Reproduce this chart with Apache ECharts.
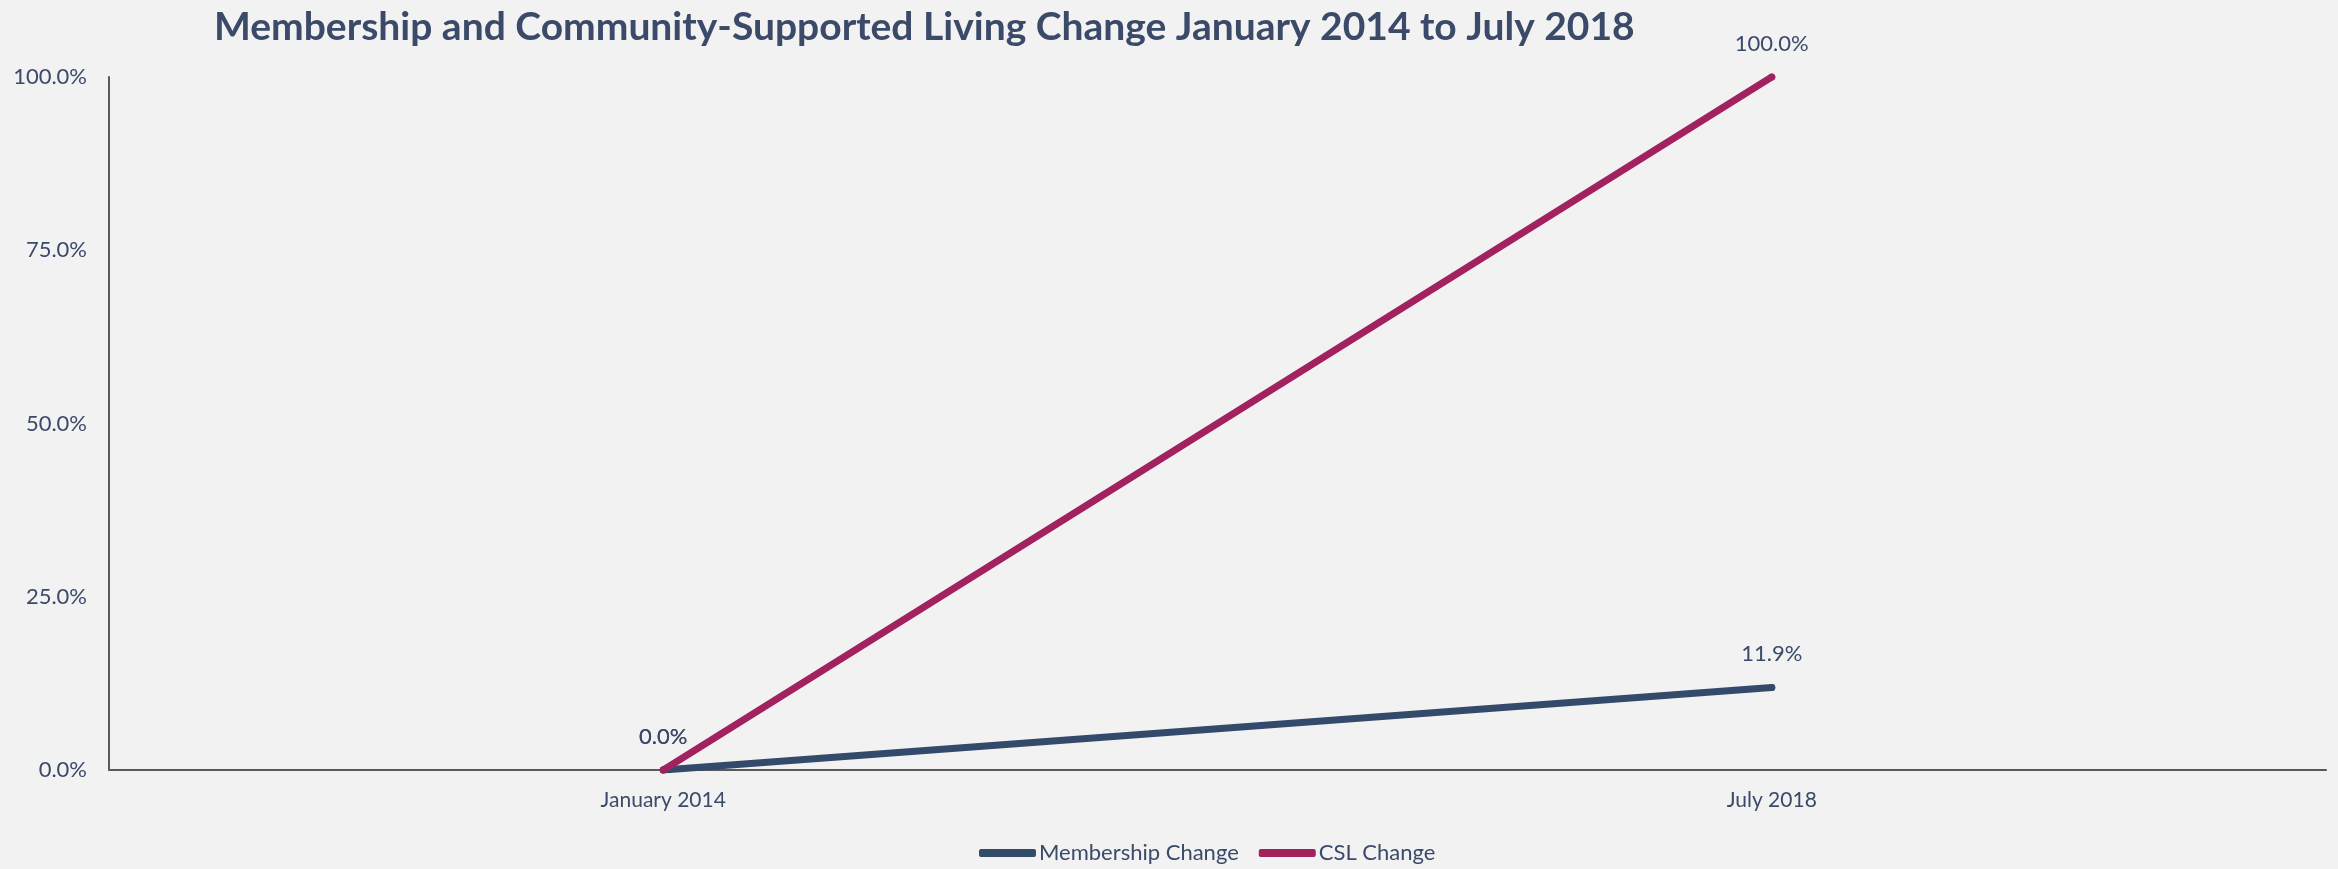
<!DOCTYPE html>
<html>
<head>
<meta charset="utf-8">
<script src="https://cdn.jsdelivr.net/npm/echarts@6/dist/echarts.min.js"></script>
<style>
  html, body { margin: 0; padding: 0; background: #f2f2f2; }
  #chart { width: 2338px; height: 869px; }
</style>
</head>
<body>
<div id="chart"></div>
<script>
// values
const categories = ['January 2014', 'July 2018'];
const membershipChange = [0.0, 11.9];
const cslChange = [0.0, 100.0];
const seriesNames = ['Membership Change', 'CSL Change'];

const textColor = '#3b4a69';
const font = 'Lato';

const chart = echarts.init(document.getElementById('chart'));

function lineSeries(name, data, color) {
  return {
    name: name,
    type: 'line',
    data: data,
    symbol: 'circle',
    symbolSize: 7,
    showSymbol: true,
    lineStyle: { color: color, width: 7, cap: 'round' },
    itemStyle: { color: color },
    labelLayout: { hideOverlap: false },
    label: {
      show: true,
      position: 'top',
      distance: 19,
      color: textColor,
      fontFamily: font,
      fontSize: 22,
      formatter: (p) => p.value.toFixed(1) + '%'
    }
  };
}

chart.setOption({
  backgroundColor: '#f2f2f2',
  animation: false,
  title: {
    text: 'Membership and Community-Supported Living Change January 2014 to July 2018',
    left: 209,
    top: 3,
    textStyle: { color: textColor, fontFamily: font, fontWeight: 'bold', fontSize: 39 }
  },
  grid: { left: 109, right: 12, top: 77, bottom: 99, containLabel: false },
  legend: {
    bottom: 0,
    left: 974,
    itemWidth: 57,
    itemHeight: 8,
    itemGap: 20,
    icon: 'roundRect',
    textStyle: { color: textColor, fontFamily: font, fontSize: 22, padding: [0, 0, 0, -2] },
    data: seriesNames
  },
  xAxis: {
    type: 'category',
    data: categories,
    boundaryGap: true,
    axisLine: { lineStyle: { color: '#595959', width: 2 } },
    axisTick: { show: false },
    axisLabel: { color: textColor, fontFamily: font, fontSize: 21, margin: 20 }
  },
  yAxis: {
    type: 'value',
    min: 0,
    max: 100,
    interval: 25,
    axisLine: { show: true, lineStyle: { color: '#595959', width: 2 } },
    axisTick: { show: false },
    splitLine: { show: false },
    axisLabel: {
      color: textColor, fontFamily: font, fontSize: 22, margin: 22,
      formatter: (v) => v.toFixed(1) + '%'
    }
  },
  series: [
    lineSeries(seriesNames[0], membershipChange, '#344a6b'),
    lineSeries(seriesNames[1], cslChange, '#a2225f')
  ]
});
</script>
</body>
</html>
